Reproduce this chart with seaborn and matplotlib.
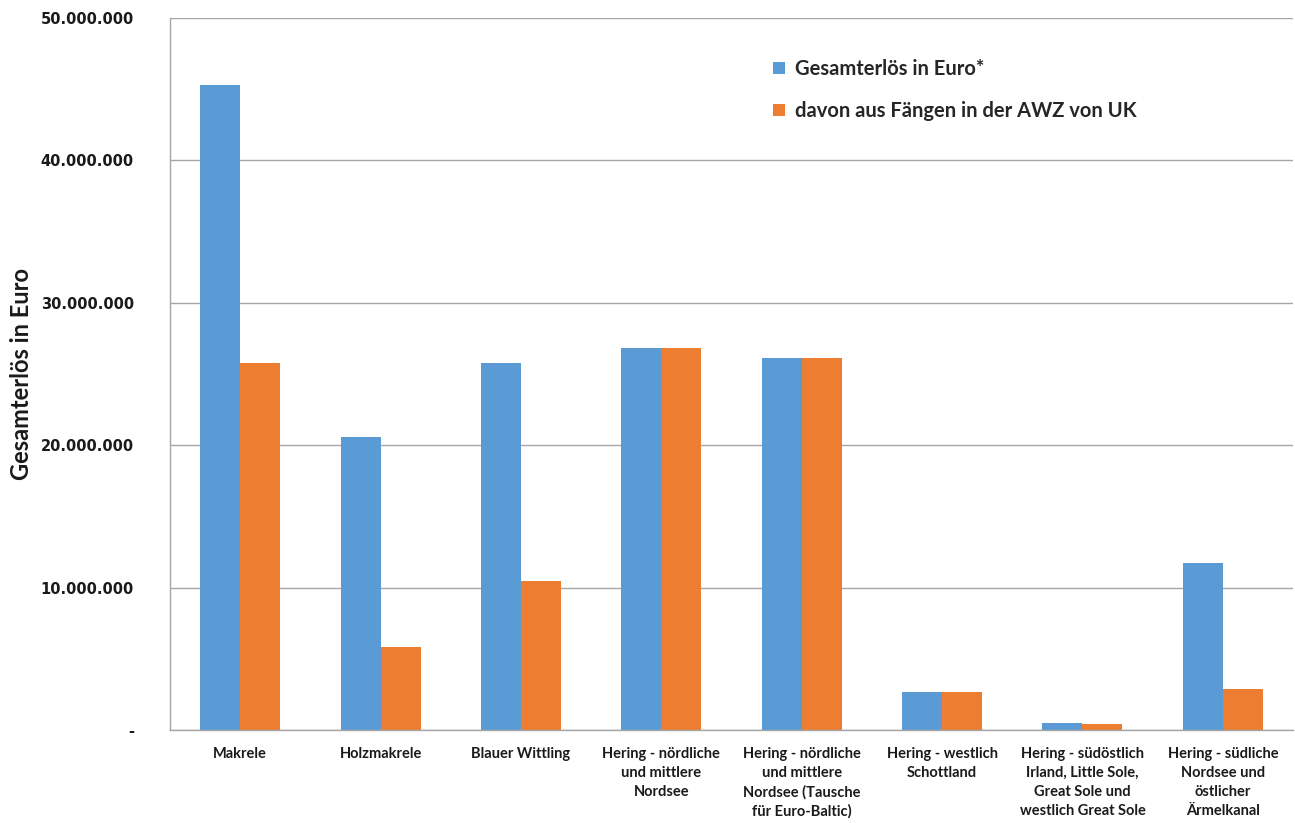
import pandas as pd
import matplotlib.pyplot as plt
import seaborn as sns
from matplotlib.ticker import FixedLocator

categories = [
    'Makrele',
    'Holzmakrele',
    'Blauer Wittling',
    'Hering - nördliche\nund mittlere\nNordsee',
    'Hering - nördliche\nund mittlere\nNordsee (Tausche\nfür Euro-Baltic)',
    'Hering - westlich\nSchottland',
    'Hering - südöstlich\nIrland, Little Sole,\nGreat Sole und\nwestlich Great Sole',
    'Hering - südliche\nNordsee und\nöstlicher\nÄrmelkanal',
]
series_names = ['Gesamterlös in Euro*', 'davon aus Fängen in der AWZ von UK']
gesamt = [45300000, 20600000, 25800000, 26800000, 26100000, 2650000, 510000, 11700000]
awz_uk = [25800000, 5800000, 10450000, 26800000, 26100000, 2650000, 400000, 2850000]
y_ticks = [0, 10000000, 20000000, 30000000, 40000000, 50000000]
y_tick_labels = ['-', '10.000.000', '20.000.000', '30.000.000', '40.000.000', '50.000.000']

df = pd.DataFrame({
    'Art': categories * 2,
    'Serie': [series_names[0]] * len(categories) + [series_names[1]] * len(categories),
    'Wert': gesamt + awz_uk,
})

sns.set_style('white')
plt.rcParams['font.family'] = ['Lato', 'DejaVu Sans']

fig = plt.figure(figsize=(12.95, 8.23), dpi=100)
ax = fig.add_axes([0.1313, 0.113, 0.8672, 0.865])

sns.barplot(ax=ax, data=df, x='Art', y='Wert', hue='Serie', hue_order=series_names,
            palette=['#5B9BD5', '#ED7D31'], width=0.57, saturation=1, errorbar=None,
            linewidth=0)

ax.set_ylim(0, 50000000)
ax.set_xlim(-0.5, len(categories) - 0.5)
ax.set_yticks(y_ticks, y_tick_labels, fontfamily='DejaVu Sans', fontweight='bold', fontsize=10.5)
ax.tick_params(axis='y', length=5, color='#A6A6A6', width=1, pad=21, labelcolor='#1a1a1a')

ax.set_xticks(range(len(categories)), categories, fontsize=10.5, fontweight='bold', linespacing=1.45)
ax.tick_params(axis='x', which='major', length=0, pad=12, labelcolor='#1a1a1a')
ax.xaxis.set_minor_locator(FixedLocator([k + 0.5 for k in range(-1, len(categories))]))
ax.tick_params(axis='x', which='minor', length=6, color='#A6A6A6', width=1, direction='out')

ax.grid(axis='y', color='#A6A6A6', linewidth=1)
ax.set_axisbelow(True)
for s in ['top', 'right']:
    ax.spines[s].set_visible(False)
for s in ['left', 'bottom']:
    ax.spines[s].set_color('#A6A6A6')
    ax.spines[s].set_linewidth(1)

ax.set_xlabel('')
ax.set_ylabel('Gesamterlös in Euro', fontsize=17, fontweight='bold', color='#1a1a1a')
ax.yaxis.set_label_coords(-0.122, 0.5)

ax.legend(loc='upper left', bbox_to_anchor=(0.521, 0.968), frameon=False,
          prop={'weight': 'bold', 'size': 14.5}, handlelength=0.6, handleheight=0.6,
          handletextpad=0.5, labelspacing=1.1)

fig.savefig('out.png', dpi=100)
